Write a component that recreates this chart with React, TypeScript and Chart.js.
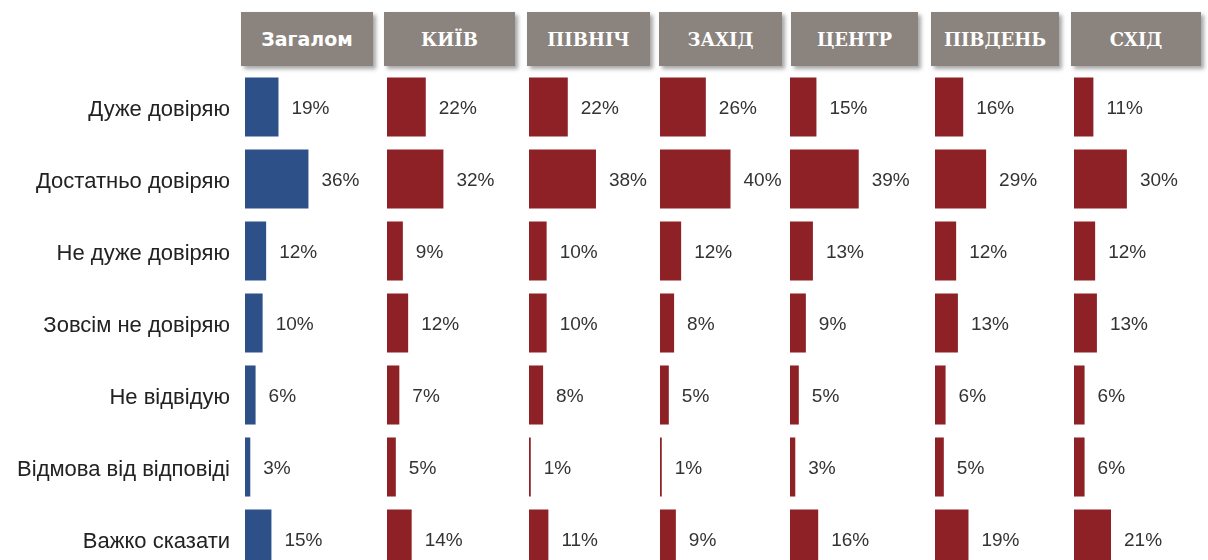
import React, { useEffect, useRef } from "react";
import { Chart, registerables } from "chart.js";

Chart.register(...registerables);

// ---- data ----
const categories = [
  "Дуже довіряю",
  "Достатньо довіряю",
  "Не дуже довіряю",
  "Зовсім не довіряю",
  "Не відвідую",
  "Відмова від відповіді",
  "Важко сказати",
];
const regions = ["Загалом", "КИЇВ", "ПІВНІЧ", "ЗАХІД", "ЦЕНТР", "ПІВДЕНЬ", "СХІД"];
const overall = [19, 36, 12, 10, 6, 3, 15];
const kyiv = [22, 32, 9, 12, 7, 5, 14];
const north = [22, 38, 10, 10, 8, 1, 11];
const west = [26, 40, 12, 8, 5, 1, 9];
const center = [15, 39, 13, 9, 5, 3, 16];
const south = [16, 29, 12, 13, 6, 5, 19];
const east = [11, 30, 12, 13, 6, 6, 21];
const seriesList = [overall, kyiv, north, west, center, south, east];

// ---- layout / style ----
const BLUE = "#2d5088";
const RED = "#8e2126";
const HEADER_BG = "#8b837e";
const AXIS_MAX = 80;
const PLOT_W = 141;
const LABEL_AXIS_W = 245;
const PANEL_LEFT = [0, 386.5, 528.5, 659.5, 789.5, 935, 1074];
const HEADER_LEFT = [241, 384, 527, 659, 791, 931, 1071];
const HEADER_W = [132, 131, 123, 123, 127, 128, 130];
const CHART_TOP = 71;
const CHART_H = 504;

const valueLabelPlugin = {
  id: "valueLabels",
  afterDatasetsDraw(chart: any) {
    const ctx = chart.ctx;
    const meta = chart.getDatasetMeta(0);
    const data = chart.data.datasets[0].data;
    ctx.save();
    ctx.font = "19px 'Liberation Sans', Arial, sans-serif";
    ctx.fillStyle = "#333333";
    ctx.textAlign = "left";
    ctx.textBaseline = "middle";
    meta.data.forEach((bar: any, i: number) => {
      ctx.fillText(data[i] + "%", bar.x + 13, bar.y + 2);
    });
    ctx.restore();
  },
};

function Panel({ index }: { index: number }) {
  const ref = useRef<HTMLCanvasElement>(null);
  const isFirst = index === 0;
  const width = isFirst ? LABEL_AXIS_W + PLOT_W : PLOT_W;
  useEffect(() => {
    if (!ref.current) return;
    const chart = new Chart(ref.current, {
      type: "bar",
      data: {
        labels: categories,
        datasets: [
          {
            data: seriesList[index],
            backgroundColor: isFirst ? BLUE : RED,
            borderWidth: 0,
            barPercentage: 0.82,
            categoryPercentage: 1,
          },
        ],
      },
      options: {
        indexAxis: "y",
        responsive: false,
        animation: false,
        layout: { padding: 0 },
        plugins: {
          legend: { display: false },
          tooltip: { enabled: false },
          title: { display: false },
        },
        scales: {
          x: { display: false, min: 0, max: AXIS_MAX },
          y: isFirst
            ? {
                display: true,
                grid: { display: false, drawTicks: false },
                border: { display: false },
                ticks: {
                  color: "#222222",
                  padding: 15,
                  labelOffset: 3,
                  font: { family: "'Liberation Sans', Arial, sans-serif", size: 22 },
                },
                afterFit: (scale: any) => {
                  scale.width = LABEL_AXIS_W;
                  scale.paddingTop = 0;
                  scale.paddingBottom = 0;
                },
              }
            : { display: false },
        },
      },
      plugins: [valueLabelPlugin],
    } as any);
    return () => chart.destroy();
  }, [index]);
  return (
    <canvas
      ref={ref}
      width={width}
      height={CHART_H}
      style={{ position: "absolute", left: PANEL_LEFT[index], top: CHART_TOP, width, height: CHART_H }}
    />
  );
}

export default function App() {
  return (
    <div
      style={{
        position: "fixed",
        left: 0,
        top: 0,
        width: 1208,
        height: 560,
        overflow: "hidden",
        background: "#ffffff",
      }}
    >
      {regions.map((r, i) => (
        <div
          key={r}
          style={{
            position: "absolute",
            left: HEADER_LEFT[i],
            top: 12,
            width: HEADER_W[i],
            height: 54,
            background: HEADER_BG,
            color: "#ffffff",
            fontWeight: "bold",
            display: "flex",
            alignItems: "center",
            justifyContent: "center",
            boxShadow: "3px 3px 4px rgba(0,0,0,0.35)",
            fontFamily: i === 0 ? "'DejaVu Sans', sans-serif" : "'DejaVu Serif', serif",
            fontSize: i === 0 ? 19 : 18,
          }}
        >
          {r}
        </div>
      ))}
      {regions.map((r, i) => (
        <Panel key={"p" + r} index={i} />
      ))}
    </div>
  );
}
